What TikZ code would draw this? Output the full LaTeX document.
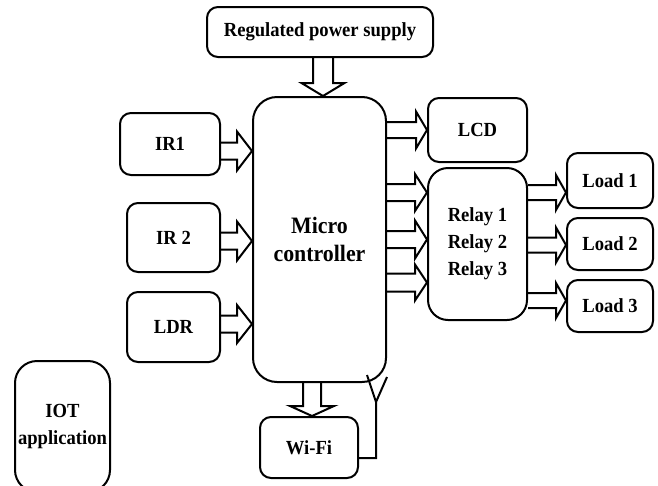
\documentclass[tikz,border=0pt]{standalone}
\usepackage{fontspec}
\setmainfont{Liberation Serif}[FakeStretch=0.93]
\usetikzlibrary{calc}

% Outlined block arrow pointing right: from #1 to the tip #2 (same height),
% shaft half-width #3, head half-width #4, head length #5
\newcommand\hblock[5]{%
  \draw[blockline] let \p1=(#1), \p2=(#2) in
    (\x1,\y1+#3) -- (\x2-#5,\y1+#3) -- (\x2-#5,\y1+#4) -- (\x2,\y1)
    -- (\x2-#5,\y1-#4) -- (\x2-#5,\y1-#3) -- (\x1,\y1-#3);}
% Outlined block arrow pointing down: from #1 to the tip #2 (same column)
\newcommand\vblock[5]{%
  \draw[blockline] let \p1=(#1), \p2=(#2) in
    (\x1-#3,\y1) -- (\x1-#3,\y2+#5) -- (\x1-#4,\y2+#5) -- (\x1,\y2)
    -- (\x1+#4,\y2+#5) -- (\x1+#3,\y2+#5) -- (\x1+#3,\y1);}

\begin{document}
\begin{tikzpicture}[x=1pt,y=-1pt,line width=2pt,
  box/.style={draw,rounded corners=11pt,inner sep=0pt,align=center,
    font=\bfseries\fontsize{20}{27}\selectfont},
  blockline/.style={line width=2pt,line join=miter}]
\clip (0,0) rectangle (658,485);
\fill[white] (0,0) rectangle (658,485);

% blocks
\node[box,minimum width=226pt,minimum height=50pt] (psu) at (320,32) {Regulated power supply};
\node[box,rounded corners=24pt,minimum width=133pt,minimum height=285pt,
  font=\bfseries\fontsize{23.5}{28}\selectfont] (mc) at (319.5,239.5) {Micro\\controller};
\node[box,minimum width=100pt,minimum height=62pt] (ir1) at (170,144) {IR1};
\node[box,minimum width=93pt,minimum height=69pt] (ir2) at (173.5,237.5) {IR 2};
\node[box,minimum width=93pt,minimum height=70pt] (ldr) at (173.5,327) {LDR};
\node[box,minimum width=99pt,minimum height=64pt] (lcd) at (477.5,130) {LCD};
\node[box,rounded corners=20pt,minimum width=99pt,minimum height=152pt] (relay) at (477.5,244)
  {Relay 1\\Relay 2\\Relay 3};
\node[box,minimum width=86pt,minimum height=55pt] (load1) at (610,180.5) {Load 1};
\node[box,minimum width=86pt,minimum height=52pt] (load2) at (610,244) {Load 2};
\node[box,minimum width=86pt,minimum height=52pt] (load3) at (610,306) {Load 3};
\node[box,minimum width=98pt,minimum height=61pt] (wifi) at (309,447.5) {Wi-Fi};
\node[box,rounded corners=22pt,minimum width=95pt,minimum height=131pt] (iot) at (62.5,426.5)
  {IOT\\application};

% supply into the controller
\vblock{psu.south -| 323,0}{mc.north -| 323,0}{10pt}{21.5pt}{13pt}

% sensors into the controller
\hblock{ir1.east |- 0,151}{mc.west |- 0,151}{8.5pt}{19.5pt}{15pt}
\hblock{ir2.east |- 0,241}{mc.west |- 0,241}{8.5pt}{19.5pt}{15pt}
\hblock{ldr.east |- 0,324}{mc.west |- 0,324}{8.5pt}{19pt}{15pt}

% controller outputs
\hblock{mc.east |- 0,130}{lcd.west |- 0,130}{8pt}{18.5pt}{11pt}
\hblock{mc.east |- 0,192.5}{relay.west |- 0,192.5}{8.5pt}{18.5pt}{12pt}
\hblock{mc.east |- 0,239.5}{relay.west |- 0,239.5}{8.5pt}{19pt}{12pt}
\hblock{mc.east |- 0,282.5}{relay.west |- 0,282.5}{9pt}{18pt}{12pt}

% relays to loads
\hblock{relay.east |- 0,192.5}{load1.west |- 0,192.5}{7.5pt}{17.5pt}{10pt}
\hblock{relay.east |- 0,245}{load2.west |- 0,245}{7.5pt}{17.5pt}{10pt}
\hblock{relay.east |- 0,300.5}{load3.west |- 0,300.5}{7.5pt}{17.5pt}{10pt}

% controller to the Wi-Fi module
\vblock{mc.south -| 312,0}{wifi.north -| 312,0}{9pt}{22pt}{10pt}

% antenna
\coordinate (ant) at (376,402);
\draw ($(wifi.east)+(0,10.5)$) -| (ant) -- ++(-9,-27);
\draw (ant) -- ++(11,-25);
\end{tikzpicture}
\end{document}
